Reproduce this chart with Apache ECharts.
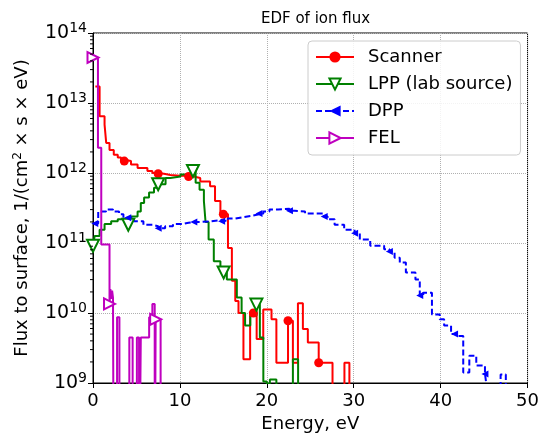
<!DOCTYPE html>
<html><head><meta charset="utf-8">
<script src="https://cdn.jsdelivr.net/npm/echarts@6/dist/echarts.min.js"></script>
<style>html,body{margin:0;padding:0;background:#fff}#c{width:542px;height:441px}</style>
</head><body><div id="c"></div>
<script>
// Energies (eV) = left edge of each step; values = log10(flux); null = zero flux (below axis)
const scannerE = [0.27,0.76,1.33,1.52,1.9,2.39,2.85,3.23,3.6,4.37,5.13,6.26,6.83,7.5,8.16,8.9,10.0,11.0,11.58,12.34,13.47,14.04,14.66,15.0,15.53,15.98,16.37,16.74,17.31,18.08,18.45,18.83,19.59,20.54,21.1,22.44,23.0,23.58,24.15,24.72,25.97,27.56,28.93,29.5];
const scannerLog = [13.235,12.81,12.69,12.43,12.33,12.26,12.22,12.19,12.17,12.12,12.07,12.03,12.0,11.99,11.97,11.96,11.96,11.95,11.93,11.88,11.81,11.6,11.43,11.41,10.93,10.46,10.17,10.0,9.34,10.0,10.0,9.63,10.05,9.91,9.29,9.89,9.29,10.14,9.77,9.58,9.29,null,9.29,null];
const scannerMarkers = [8,13,17,23,30,35,40];

const lppE = [0.0,0.19,0.76,1.33,2.09,2.85,3.6,4.06,4.37,5.13,5.5,5.88,6.45,7.02,7.5,8.35,8.9,10.06,10.82,11.5,11.81,12.26,12.76,12.95,13.3,13.9,14.66,15.03,15.4,16.55,17.1,17.5,18.1,18.8,19.2,19.6,20.0,20.35,21.1,23.0,23.6];
const lppLog = [10.96,11.1,11.19,11.27,11.31,11.34,11.36,11.26,11.38,11.45,11.57,11.65,11.72,11.79,11.84,11.93,11.95,11.98,12.0,12.03,11.86,11.76,11.6,11.3,11.05,10.74,10.62,10.58,10.48,10.22,10.0,9.82,9.96,10.12,9.65,9.02,8.99,9.05,null,9.34,null];
const lppMarkers = [0,7,14,19,27,33];

const dppE = [0.2,0.6,1.5,2.3,3.0,3.5,4.0,4.7,5.8,6.9,7.5,8.3,9.2,10.3,11.0,11.6,12.4,13.5,14.8,15.5,16.4,17.3,18.3,19.1,19.6,20.3,21.3,22.6,23.2,24.4,26.6,27.0,27.8,28.9,30.1,30.7,31.9,33.5,34.1,34.7,35.3,36.0,37.1,37.6,38.0,39.0,39.9,40.4,41.2,41.6,42.0,42.6,43.3,44.1,45.1,45.3,46.5,46.9,47.5];
const dppLog = [11.28,11.45,11.48,11.45,11.41,11.36,11.36,11.31,11.26,11.24,11.21,11.24,11.27,11.29,11.3,11.3,11.31,11.33,11.31,11.35,11.37,11.39,11.41,11.42,11.45,11.48,11.49,11.46,11.45,11.42,11.38,11.34,11.26,11.19,11.14,11.05,10.96,10.91,10.88,10.79,10.72,10.58,10.48,10.25,10.29,9.98,9.91,9.82,9.7,9.7,9.67,9.15,9.39,9.25,9.13,8.95,8.8,9.12,null];
const dppMarkers = [0,6,10,15,18,23,27,30,34,38,43,49,54];

const felE = [0.0,0.57,0.95,1.9,2.0,2.1,2.2,2.3,2.39,2.77,3.04,4.18,4.56,5.05,5.3,5.5,6.46,6.83,7.1,7.21,7.78];
const felLog = [13.65,12.36,10.98,10.13,10.34,10.2,10.32,10.22,null,9.94,null,9.65,null,9.65,null,9.65,9.94,10.13,null,9.91,null];
const felMarkers = [0,3,19];

const seriesNames = ['Scanner','LPP (lab source)','DPP','FEL'];
const xTicks = [0,10,20,30,40,50];
const yExpMin = 9, yExpMax = 14;

const FONT = 'DejaVu Sans';
function build(E, L, marks) {
  return E.map((e, i) => {
    const y = L[i] === null ? 1e7 : Math.pow(10, L[i]);
    const item = { value: [e, y] };
    if (marks.indexOf(i) < 0) item.symbol = 'none';
    return item;
  });
}
const minorVals = [];
for (let k = yExpMin; k < yExpMax; k++) for (let m = 2; m <= 9; m++) minorVals.push([0, m * Math.pow(10, k)]);

const chart = echarts.init(document.getElementById('c'), null, {renderer: 'canvas'});
chart.setOption({
  animation: false,
  textStyle: { fontFamily: FONT },
  title: { text: 'EDF of ion flux', left: 256, top: 7,
    textStyle: { fontFamily: FONT, fontSize: 15, fontWeight: 'normal', color: '#000' } },
  grid: { left: 93, right: 10, top: 33, bottom: 58, show: true, borderColor: '#000', borderWidth: 1 },
  legend: {
    orient: 'vertical', left: 308, top: 41, data: seriesNames,
    itemWidth: 38, itemHeight: 14, itemGap: 9,
    padding: [7, 8, 8, 7],
    backgroundColor: 'rgba(255,255,255,0.85)', borderColor: '#cccccc', borderWidth: 1, borderRadius: 4,
    textStyle: { fontFamily: FONT, fontSize: 18, color: '#000', padding: [0, 0, 0, 9] }
  },
  xAxis: {
    type: 'value', min: xTicks[0], max: xTicks[xTicks.length - 1], interval: 10,
    name: 'Energy, eV', nameLocation: 'middle', nameGap: 32,
    nameTextStyle: { fontFamily: FONT, fontSize: 18, color: '#000' },
    axisLine: { lineStyle: { color: '#000', width: 1 } },
    axisTick: { show: true, length: 5, lineStyle: { color: '#000' } },
    axisLabel: { fontFamily: FONT, fontSize: 18, color: '#000', margin: 9 },
    splitLine: { show: true, lineStyle: { color: '#b0b0b0', type: 'dotted', width: 1 } }
  },
  yAxis: {
    type: 'log', logBase: 10, min: Math.pow(10, yExpMin), max: Math.pow(10, yExpMax),
    name: '{n|Flux to surface, 1/(cm}{s|2}{n| × s × eV)}', nameLocation: 'middle', nameGap: 60,
    nameTextStyle: { fontFamily: FONT, color: '#000',
      rich: { n: { fontFamily: FONT, fontSize: 18, color: '#000' },
              s: { fontFamily: FONT, fontSize: 12, color: '#000', verticalAlign: 'top', padding: [0, 0, 9, 0] } } },
    axisLine: { show: true, lineStyle: { color: '#000', width: 1 } },
    axisTick: { show: true, length: 5, lineStyle: { color: '#000' } },
    axisLabel: { margin: 6, color: '#000',
      formatter: v => '{a|10}{b|' + Math.round(Math.log10(v)) + '}',
      rich: { a: { fontFamily: FONT, fontSize: 19, color: '#000' },
              b: { fontFamily: FONT, fontSize: 14, color: '#000', verticalAlign: 'top', padding: [0, 0, 10, 0] } } },
    splitLine: { show: true, lineStyle: { color: '#b0b0b0', type: 'dotted', width: 1 } }
  },
  series: [
    { name: seriesNames[0], type: 'line', step: 'end', data: build(scannerE, scannerLog, scannerMarkers),
      symbol: 'circle', symbolSize: 9, showAllSymbol: true, color: '#ff0000',
      lineStyle: { color: '#ff0000', width: 2 }, itemStyle: { color: '#ff0000' } },
    { name: seriesNames[1], type: 'line', step: 'end', data: build(lppE, lppLog, lppMarkers),
      symbol: 'emptyTriangle', symbolSize: 12, symbolRotate: 180, showAllSymbol: true, color: '#008000',
      lineStyle: { color: '#008000', width: 2 }, itemStyle: { color: '#008000', borderWidth: 1.5 } },
    { name: seriesNames[2], type: 'line', step: 'end', data: build(dppE, dppLog, dppMarkers),
      symbol: 'triangle', symbolSize: 7, symbolRotate: 90, showAllSymbol: true, color: '#0000ff',
      lineStyle: { color: '#0000ff', width: 2, type: [6, 3] }, itemStyle: { color: '#0000ff' } },
    { name: seriesNames[3], type: 'line', step: 'end', data: build(felE, felLog, felMarkers),
      symbol: 'emptyTriangle', symbolSize: 11, symbolRotate: -90, showAllSymbol: true, color: '#bf00bf',
      lineStyle: { color: '#bf00bf', width: 2 }, itemStyle: { color: '#bf00bf', borderWidth: 1.5 } },
    { name: 'minorTicks', type: 'custom', silent: true, clip: false, z: 5, data: minorVals,
      renderItem: (p, api) => {
        const pt = api.coord([0, api.value(1)]);
        return { type: 'line', shape: { x1: pt[0] - 3, y1: pt[1], x2: pt[0], y2: pt[1] },
                 style: { stroke: '#000', lineWidth: 1 } };
      } }
  ]
});
</script></body></html>
